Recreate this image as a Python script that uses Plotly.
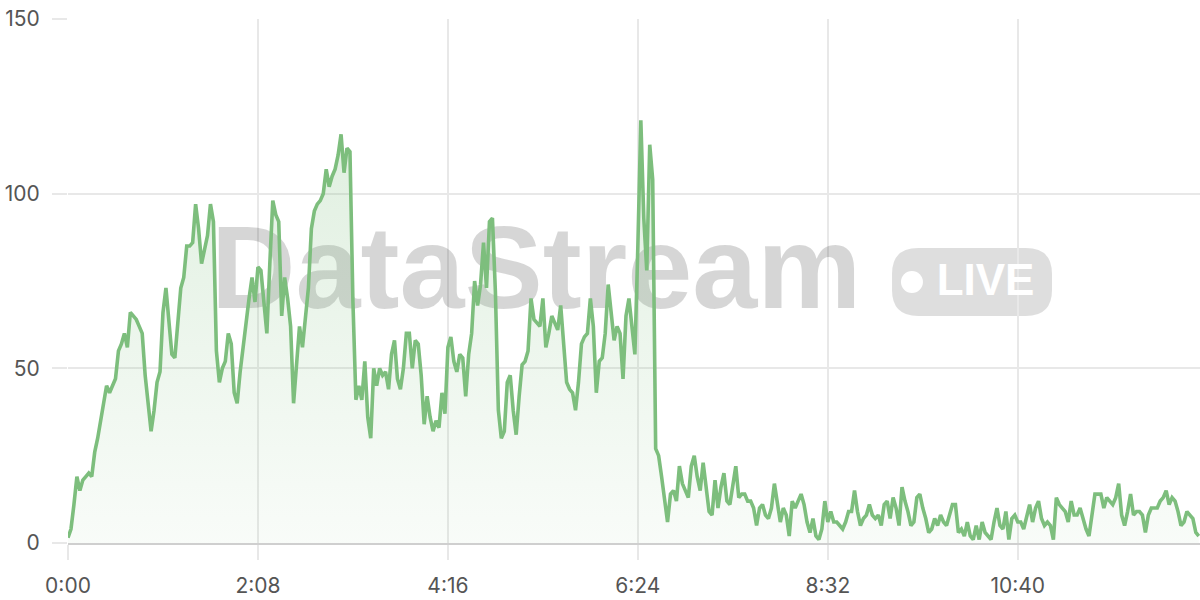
import plotly.graph_objects as go

# ---- data (one sample every 2 seconds) ----
step_seconds = 2
values = [
    # 0:00 - 2:08
    1.5, 4, 11, 19, 15, 18, 19, 20, 19, 26, 30, 35, 40, 45, 43, 45, 47, 55, 57, 60,
    56, 66, 65, 64, 62, 60, 48, 40, 32, 38, 46, 49, 66, 73, 62, 54, 53, 62, 73, 76,
    85, 85, 86, 97, 90, 80, 84, 88, 97, 92, 55, 46, 50, 52, 60, 57, 43, 40, 49, 57,
    63, 70, 76, 69, 79,
    # 2:10 - 4:16
    78, 70, 60, 80, 98, 94, 92, 65, 76, 70, 62, 40, 52, 62, 56, 64, 73, 90, 95, 97,
    98, 100, 107, 102, 105, 107, 111, 117, 106, 113, 112, 69, 41, 45, 41, 52, 36, 30, 50, 45,
    50, 48, 49, 44, 54, 58, 47, 44, 50, 60, 60, 50, 58, 57, 48, 34, 42, 36, 32, 35,
    33, 43, 37, 56,
    # 4:18 - 6:24
    59, 52, 49, 54, 53, 42, 54, 60, 75, 68, 74, 86, 73, 92, 93, 72, 38, 30, 32, 46,
    48, 38, 31, 42, 51, 52, 55, 70, 64, 63, 62, 70, 56, 60, 65, 63, 61, 68, 57, 46,
    44, 43, 38, 46, 57, 59, 60, 70, 62, 43, 52, 53, 60, 74, 66, 58, 62, 60, 47, 65,
    70, 62, 54, 85,
    # 6:26 - 8:26
    121, 93, 78, 114, 104, 27, 25, 19, 13, 6, 14, 15, 12, 22, 17, 15, 13, 22, 25, 19,
    15, 23, 15, 9, 8, 18, 10, 16, 20, 12, 11, 17, 22, 13, 14, 14, 12, 12, 10, 5,
    10, 11, 8, 7, 10, 17, 11, 6, 10, 8, 2, 12, 10, 12, 14, 11, 6, 3, 7, 2, 1,
    # 8:28 - 10:28
    4, 12, 6, 9, 6, 6, 5, 4, 6, 9, 9, 15, 9, 5, 7, 8, 11, 8, 7, 8,
    5, 11, 12, 7, 13, 10, 5, 16, 12, 9, 5, 6, 13, 14, 10, 7, 3, 4, 7, 5,
    8, 6, 5, 8, 11, 11, 3, 4, 2, 6, 2, 1, 5, 1, 6, 3, 2, 1, 6, 10, 5,
    # 10:30 - 12:42
    4, 9, 1, 7, 8, 6, 6, 4, 8, 11, 6, 10, 12, 7, 5, 6, 5, 1, 13, 11,
    10, 9, 6, 12, 8, 8, 10, 7, 4, 2, 8, 14, 14, 14, 10, 13, 12, 11, 13, 17,
    8, 5, 9, 14, 8, 9, 9, 8, 3, 8, 10, 10, 10, 12, 13, 15, 11, 13, 12, 9,
    5, 6, 9, 8, 7, 3, 2,
]
seconds = [i * step_seconds for i in range(len(values))]

x_tick_seconds = [0, 128, 256, 384, 512, 640]
x_tick_labels = ["0:00", "2:08", "4:16", "6:24", "8:32", "10:40"]
y_ticks = [0, 50, 100, 150]

watermark_text = "DataStream"
badge_text = "LIVE"

# ---- styling ----
LINE = "#7dbe7d"
GRID = "#e8e8e8"
TICKFONT = dict(family="Inter, Roboto, sans-serif", size=21, color="#555555")

X_MAX = 762.8

fig = go.Figure()

# watermark (behind the data)
fig.add_trace(go.Scatter(
    x=[315.5], y=[75.6], mode="text", text=[watermark_text],
    textposition="middle center",
    textfont=dict(family="Liberation Sans, Arial, sans-serif", size=117,
                  color="rgba(0,0,0,0.16)", weight="bold"),
    hoverinfo="skip", showlegend=False, cliponaxis=False,
))
fig.add_trace(go.Scatter(
    x=[568.7], y=[74.7], mode="markers",
    marker=dict(size=22, color="white", line=dict(width=0)),
    hoverinfo="skip", showlegend=False, cliponaxis=False,
))
fig.add_trace(go.Scatter(
    x=[618.3], y=[74.0], mode="text", text=[badge_text],
    textposition="middle center",
    textfont=dict(family="Liberation Sans, Arial, sans-serif", size=44,
                  color="white", weight="bold"),
    hoverinfo="skip", showlegend=False, cliponaxis=False,
))

# main series
fig.add_trace(go.Scatter(
    x=seconds, y=values, mode="lines",
    line=dict(color=LINE, width=3.6),
    fill="tozeroy",
    fillgradient=dict(type="vertical", start=0, stop=120,
                      colorscale=[[0, "rgba(125,190,125,0.05)"],
                                  [1, "rgba(125,190,125,0.24)"]]),
    hoverinfo="skip", showlegend=False,
))

# rounded badge behind "LIVE"
def px_to_paper(px, py):
    return (px - 68) / 1132, (543 - py) / 524

def P(px, py):
    x, y = px_to_paper(px, py)
    return f"{x:.5f},{y:.5f}"

bx0, by0, bx1, by1, r = 892, 248, 1052, 316, 26
path = (f"M {P(bx0 + r, by0)} L {P(bx1 - r, by0)} Q {P(bx1, by0)} {P(bx1, by0 + r)} "
        f"L {P(bx1, by1 - r)} Q {P(bx1, by1)} {P(bx1 - r, by1)} "
        f"L {P(bx0 + r, by1)} Q {P(bx0, by1)} {P(bx0, by1 - r)} "
        f"L {P(bx0, by0 + r)} Q {P(bx0, by0)} {P(bx0 + r, by0)} Z")
fig.add_shape(type="path", path=path, xref="paper", yref="paper",
              fillcolor="rgba(0,0,0,0.13)", line=dict(width=0), layer="between")

fig.update_layout(
    width=1200, height=600,
    margin=dict(l=68, r=0, t=19, b=57),
    paper_bgcolor="white", plot_bgcolor="white",
    showlegend=False,
)
fig.update_xaxes(
    range=[0, X_MAX], tickvals=x_tick_seconds, ticktext=x_tick_labels,
    showgrid=True, gridcolor=GRID, gridwidth=1.5,
    ticks="outside", ticklen=15, tickcolor=GRID, tickwidth=1.5,
    showline=True, linecolor="#cfcfcf", linewidth=2,
    zeroline=False, tickfont=TICKFONT, ticklabelstandoff=8,
)
fig.update_yaxes(
    range=[0, 150], tickvals=y_ticks,
    showgrid=True, gridcolor=GRID, gridwidth=1.5,
    ticks="outside", ticklen=15, tickcolor=GRID, tickwidth=1.5,
    showline=False, zeroline=False, tickfont=TICKFONT, ticklabelstandoff=8,
)

fig.write_html("out.html", config={"displayModeBar": False},
               post_script="document.body.style.margin='0';")
